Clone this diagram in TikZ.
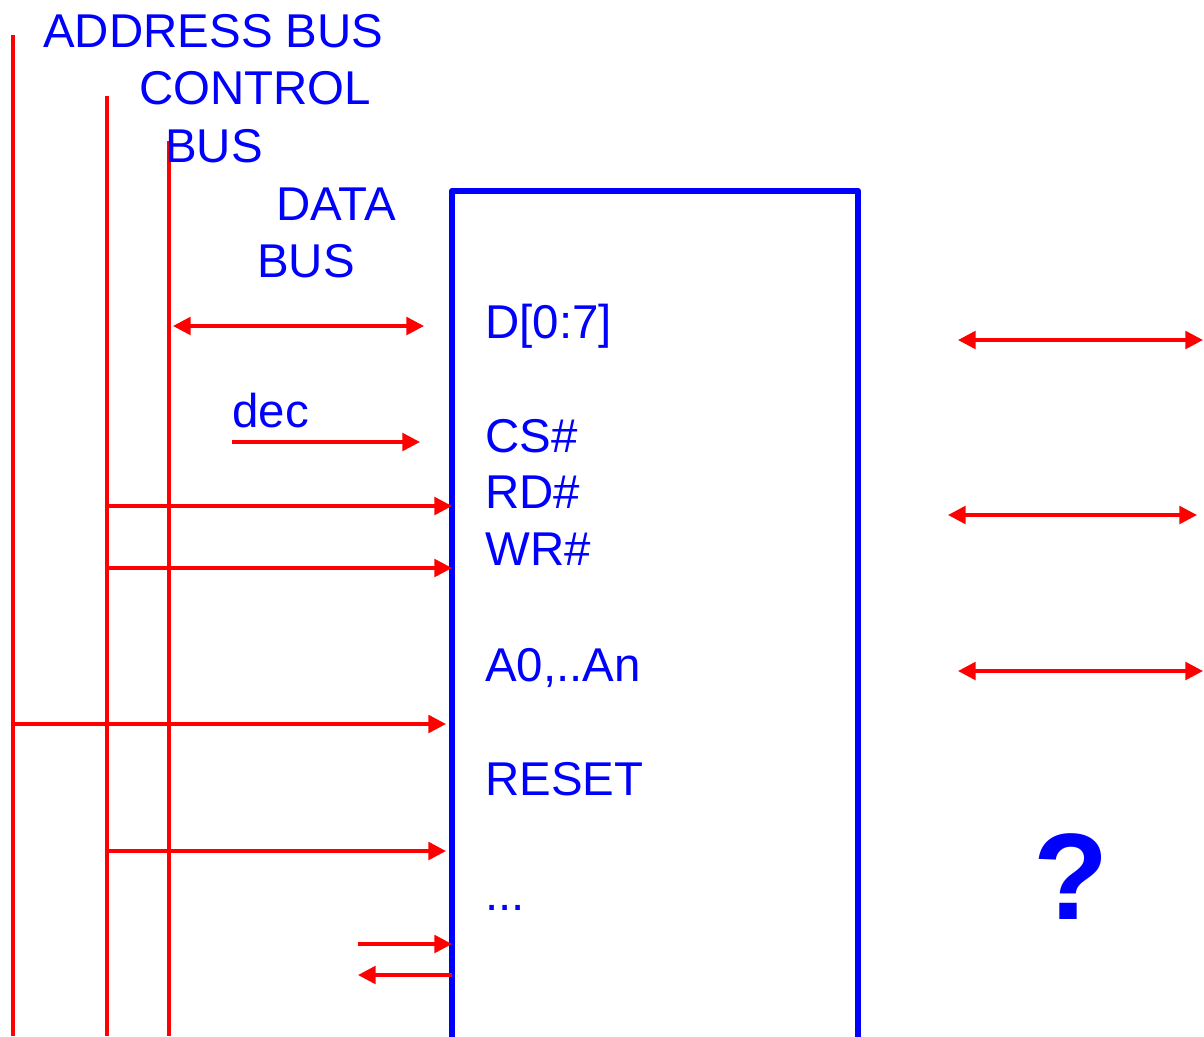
\documentclass[tikz,border=0pt]{standalone}
\usepackage{fontspec}
\setmainfont{Liberation Sans}
\usetikzlibrary{arrows.meta}
\begin{document}
\begin{tikzpicture}[x=0.02cm, y=-0.02cm, line join=round,
  >={Triangle[length=10pt,width=10pt]},
  bus/.style={red, line width=2.3pt},
  sig/.style={red, line width=2pt},
  chip/.style={blue, line width=3.6pt},
  lbl/.style={blue, inner sep=0pt, anchor=base west, font=\fontsize{27}{32}\selectfont}]
  \useasboundingbox (0,0) rectangle (1204,1036);

  % Toa do
  \coordinate (AT) at (13,35);   \coordinate (AB) at (13,1036);
  \coordinate (CT) at (107,96);  \coordinate (CB) at (107,1036);
  \coordinate (DT) at (169,141); \coordinate (DB) at (169,1036);
  \coordinate (K1) at (452,1040); \coordinate (K2) at (452,191);
  \coordinate (K3) at (858,191);  \coordinate (K4) at (858,1040);

  % Cac bus
  \draw[bus] (AT)--(AB);
  \draw[bus] (CT)--(CB);
  \draw[bus] (DT)--(DB);

  % Khoi chip
  \draw[chip] (K1)--(K2)--(K3)--(K4);

  % Nhan bus
  \node[lbl] (nab) at (43,47) {ADDRESS BUS};
  \node[lbl] (ncb) at (139,104) {CONTROL};
  \node[lbl] (ncb2) at (165,162) {BUS};
  \node[lbl] (ndb) at (276,220) {DATA};
  \node[lbl] (ndb2) at (257,277) {BUS};
  \node[lbl] (ndec) at (232,427) {dec};

  % Chan chip
  \node[lbl] (pd) at (485,338) {D[0:7]};
  \node[lbl] (pcs) at (485,452) {CS\#};
  \node[lbl] (prd) at (485,508) {RD\#};
  \node[lbl] (pwr) at (485,565) {WR\#};
  \node[lbl] (pa) at (485,681) {A0,..An};
  \node[lbl] (prs) at (485,795) {RESET};
  \node[lbl] (pdot) at (485,910) {...};
  \node[blue, inner sep=0pt, anchor=base west,
        font=\fontsize{70}{80}\selectfont\bfseries] (q) at (1033,919) {?};

  % Tin hieu
  \coordinate (d0) at (173,326);
  \coordinate (dec0) at (232,442);
  \coordinate (e1) at (358,944);
  \coordinate (e2) at (358,975);
  \draw[sig,<->] (d0) -- (424,326);
  \draw[sig,->] (dec0) -- (420,442);
  \draw[sig,->] (CB |- 0,506) -- (K1 |- 0,506);
  \draw[sig,->] (CB |- 0,568) -- (K1 |- 0,568);
  \draw[sig,->] (15,724) -- (446,724);
  \draw[sig,->] (CB |- 0,851) -- (446,851);
  \draw[sig,->] (e1) -- (K1 |- e1);
  \draw[sig,->] (K1 |- e2) -- (e2);

  % Phia ben phai
  \draw[sig,<->] (958,340) -- (1203,340);
  \draw[sig,<->] (948,515) -- (1197,515);
  \draw[sig,<->] (958,671) -- (1203,671);
\end{tikzpicture}
\end{document}
